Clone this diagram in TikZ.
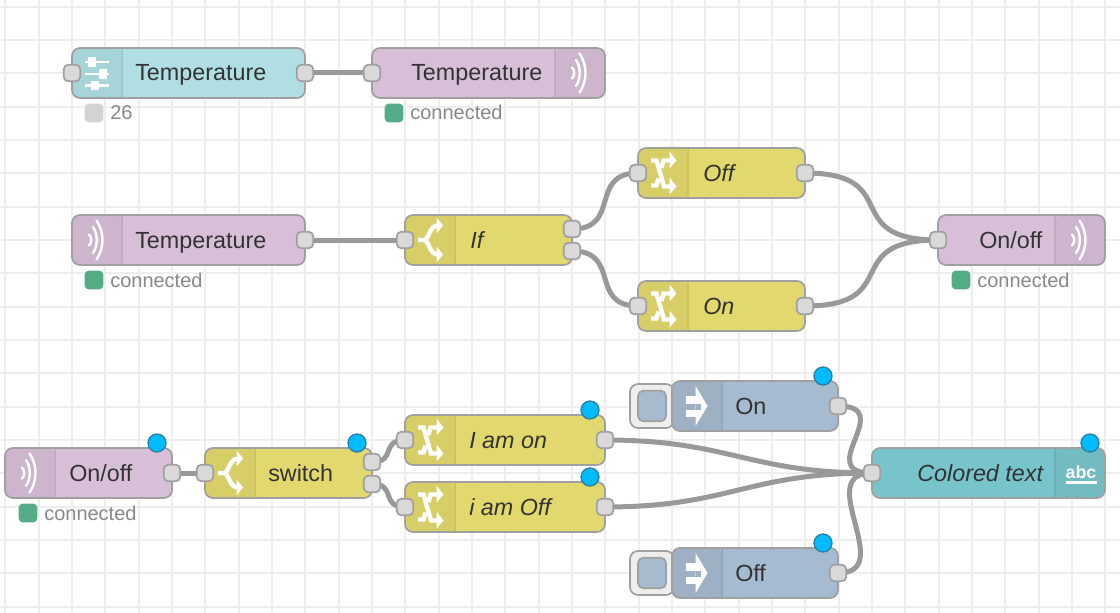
\documentclass[tikz,border=0pt]{standalone}
\usepackage{fontspec}
\setmainfont{Liberation Sans}
\usetikzlibrary{calc}
\pgfdeclarelayer{gridlayer}
\pgfdeclarelayer{wirelayer}
\pgfsetlayers{gridlayer,wirelayer,main}
\definecolor{nrtext}{HTML}{333333}
\definecolor{nrstroke}{HTML}{A0A0A0}
\definecolor{nrwire}{HTML}{999999}
\definecolor{nrgrid}{HTML}{EEEEEE}
\definecolor{nrport}{HTML}{D9D9D9}
\definecolor{nrstat}{HTML}{888888}
\definecolor{nrgreen}{HTML}{55AA88}
\definecolor{nrgrey}{HTML}{D3D3D3}
\definecolor{nrdot}{HTML}{00BCFF}
\definecolor{nrdotline}{HTML}{2B7FA8}
\definecolor{nrbtn}{HTML}{EEEEEE}
\definecolor{purple}{HTML}{D8BFD8}
\definecolor{purpletab}{HTML}{CDB5CD}
\definecolor{purpleline}{HTML}{C2ABC2}
\definecolor{yellow}{HTML}{E2D96E}
\definecolor{yellowtab}{HTML}{D7CE68}
\definecolor{yellowline}{HTML}{CBC262}
\definecolor{blue}{HTML}{A6BBCF}
\definecolor{bluetab}{HTML}{9EB1C4}
\definecolor{blueline}{HTML}{95A8BA}
\definecolor{aqua}{HTML}{B0DFE3}
\definecolor{aquatab}{HTML}{A7D4D8}
\definecolor{aqualine}{HTML}{9EC9CC}
\definecolor{teal}{HTML}{77C5CB}
\definecolor{tealtab}{HTML}{71BBC1}
\definecolor{tealline}{HTML}{6BB1B7}
\tikzset{
  px/.style={x=0.75pt,y=-0.75pt},
  flowbody/.style={draw=nrstroke,line width=1.3pt,rounded corners=6pt,minimum height=37.5pt,inner sep=0pt,outer sep=0pt},
  flowlabel/.style={anchor=base west,inner sep=0pt,text=nrtext,font=\fontsize{17.5}{20}\selectfont},
  itlabel/.style={flowlabel,font=\fontsize{17.5}{20}\selectfont\itshape},
  port/.style={draw=nrstroke,fill=nrport,line width=1.3pt,rounded corners=3.6pt,minimum size=12.5pt,inner sep=0pt,outer sep=0pt},
  wire/.style={draw=nrwire,line width=3.75pt},
  gridline/.style={draw=nrgrid,line width=1.4pt},
  statbox/.style={rounded corners=3pt,minimum size=14pt,inner sep=0pt,outer sep=0pt},
  stattext/.style={anchor=base west,inner sep=0pt,text=nrstat,font=\fontsize{15}{18}\selectfont},
  badge/.style={circle,fill=nrdot,draw=nrdotline,line width=1pt,minimum size=13.5pt,inner sep=0pt,outer sep=0pt},
  btnbox/.style={draw=nrstroke,fill=nrbtn,line width=1.3pt,rounded corners=6pt,minimum width=33pt,minimum height=33pt,inner sep=0pt,outer sep=0pt,anchor=west},
  btnface/.style={draw=nrstroke,fill=blue,line width=1.3pt,rounded corners=4pt,minimum width=21pt,minimum height=23pt,inner sep=0pt,outer sep=0pt},
  icon/.style={draw=white,line width=#1},
  icon/.default=3pt
}
\newcommand\bodyL[5]{%
  \node[flowbody,fill=#5,minimum width=#4*0.75pt,anchor=west,
    path picture={\fill[#5tab] (path picture bounding box.north west) rectangle ++(50,52);
      \draw[#5line,line width=1.2pt] ($(path picture bounding box.north west)+(50,0)$) -- ++(0,52);}]
    (#1) at (#2,#3) {};}
\newcommand\bodyR[5]{%
  \node[flowbody,fill=#5,minimum width=#4*0.75pt,anchor=west,
    path picture={\fill[#5tab] (path picture bounding box.north east) rectangle ++(-50,52);
      \draw[#5line,line width=1.2pt] ($(path picture bounding box.north east)+(-50,0)$) -- ++(0,52);}]
    (#1) at (#2,#3) {};}
\newcommand\wire[3]{\begin{pgfonlayer}{wirelayer}\draw[wire] (#1.center) .. controls +(#3,0) and +(-#3,0) .. (#2.center);\end{pgfonlayer}}
\newcommand\iconwave[2]{\begin{scope}[shift={(#1,#2)}]
  \draw[icon=1.8pt,line cap=round] (17,19.5) .. controls (20,22) and (20,28) .. (17,30.5);
  \draw[icon=1.8pt,line cap=round] (21,12) .. controls (26,19) and (26,31) .. (21,38);
  \draw[icon=1.8pt,line cap=round] (24.5,5.5) .. controls (32.5,17) and (32.5,33) .. (24.5,44.5);
\end{scope}}
\newcommand\iconchange[2]{\begin{scope}[shift={(#1,#2)}]
  \draw[icon=3.3pt] (13,12.5) -- (18.5,12.5) -- (26,38.5) -- (33,38.5);
  \draw[icon=3.3pt] (13,37.5) -- (18.5,37.5) -- (20.4,30.5);
  \draw[icon=3.3pt] (23.4,20) -- (25.6,12.5) -- (33,12.5);
  \fill[white] (31.5,3.5) -- (38.5,12.5) -- (31.5,20.5) -- cycle;
  \fill[white] (31.5,29.5) -- (38.5,38.5) -- (31.5,46.5) -- cycle;
\end{scope}}
\newcommand\iconswitch[2]{\begin{scope}[shift={(#1,#2)}]
  \draw[icon=3.3pt] (13,25) -- (19,25) .. controls (24,25) and (24,10.5) .. (33,10.5);
  \draw[icon=3.3pt] (19,25) .. controls (24,25) and (24,39.5) .. (33,39.5);
  \fill[white] (31.5,2.5) -- (38,10.5) -- (31.5,18.5) -- cycle;
  \fill[white] (31.5,31.5) -- (38,39.5) -- (31.5,47.5) -- cycle;
\end{scope}}
\newcommand\iconinject[2]{\begin{scope}[shift={(#1,#2)}]
  \fill[white] (23.5,5) -- (35.5,25) -- (23.5,45) -- cycle;
  \fill[white] (14,15) rectangle (27,22.5);
  \fill[white] (14,28.5) rectangle (27,36);
  \fill[bluetab] (23.5,22.5) rectangle (29,28.5);
\end{scope}}
\newcommand\iconslider[2]{\begin{scope}[shift={(#1,#2)}]
  \draw[icon=2.2pt] (13,14) -- (37,14);
  \fill[white] (16,9.5) rectangle (23.5,19);
  \draw[icon=2.2pt] (13,26) -- (37,26);
  \fill[white] (26.5,21.5) rectangle (34.5,31);
  \draw[icon=2.2pt] (13,37.7) -- (37,37.7);
  \fill[white] (19,33) rectangle (26.5,42.5);
\end{scope}}
\begin{document}
\begin{tikzpicture}[px]
\useasboundingbox (0,0) rectangle (1120,613);
\begin{pgfonlayer}{gridlayer}
  \fill[white] (0,0) rectangle (1120,613);
  \foreach \i in {0,...,33} \draw[gridline] ({5.33+33.33*\i},0) -- ({5.33+33.33*\i},613);
  \foreach \i in {0,...,18} \draw[gridline] (0,{6.67+33.33*\i}) -- (1120,{6.67+33.33*\i});
\end{pgfonlayer}

% row 1
\bodyL{n1}{72}{73}{233}{aqua}
\iconslider{72}{48}
\node[flowlabel] (n1t) at (135,81) {Temperature};
\node[port] (n1i) at (72,73) {};
\node[port] (n1o) at (305,73) {};
\node[statbox,fill=nrgrey] (n1s) at (94,113) {};
\node[stattext] (n1st) at (110,120) {26};

\bodyR{n2}{372}{73}{233}{purple}
\iconwave{555}{48}
\node[flowlabel] (n2t) at (411,81) {Temperature};
\node[port] (n2i) at (372,73) {};
\node[statbox,fill=nrgreen] (n2s) at (394,113) {};
\node[stattext] (n2st) at (410,120) {connected};

% row 2
\bodyL{n3}{72}{240}{233}{purple}
\iconwave{72}{215}
\node[flowlabel] (n3t) at (135,248) {Temperature};
\node[port] (n3o) at (305,240) {};
\node[statbox,fill=nrgreen] (n3s) at (94,280) {};
\node[stattext] (n3st) at (110,287) {connected};

\bodyL{n4}{405}{240}{167}{yellow}
\iconswitch{405}{215}
\node[itlabel] (n4t) at (470,248) {If};
\node[port] (n4i) at (405,240) {};
\node[port] (n4a) at (572,229) {};
\node[port] (n4b) at (572,251) {};

\bodyL{n5}{638}{173}{167}{yellow}
\iconchange{638}{148}
\node[itlabel] (n5t) at (703,181) {Off};
\node[port] (n5i) at (638,173) {};
\node[port] (n5o) at (805,173) {};

\bodyL{n6}{638}{306}{167}{yellow}
\iconchange{638}{281}
\node[itlabel] (n6t) at (703,314) {On};
\node[port] (n6i) at (638,306) {};
\node[port] (n6o) at (805,306) {};

\bodyR{n7}{938}{240}{167}{purple}
\iconwave{1055}{215}
\node[flowlabel] (n7t) at (979,248) {On/off};
\node[port] (n7i) at (938,240) {};
\node[statbox,fill=nrgreen] (n7s) at (961,280) {};
\node[stattext] (n7st) at (977,287) {connected};

% row 3
\bodyL{n8}{5}{473}{167}{purple}
\iconwave{5}{448}
\node[flowlabel] (n8t) at (69,481) {On/off};
\node[port] (n8o) at (172,473) {};
\node[statbox,fill=nrgreen] (n8s) at (28,513) {};
\node[stattext] (n8st) at (44,520) {connected};
\node[badge] (n8d) at (157,443) {};

\bodyL{n9}{205}{473}{167}{yellow}
\iconswitch{205}{448}
\node[flowlabel] (n9t) at (268,481) {switch};
\node[port] (n9i) at (205,473) {};
\node[port] (n9a) at (372,462) {};
\node[port] (n9b) at (372,484) {};
\node[badge] (n9d) at (357,443) {};

\bodyL{n10}{405}{440}{200}{yellow}
\iconchange{405}{415}
\node[itlabel] (n10t) at (469,448) {I am on};
\node[port] (n10i) at (405,440) {};
\node[port] (n10o) at (605,440) {};
\node[badge] (n10d) at (590,410) {};

\bodyL{n11}{405}{507}{200}{yellow}
\iconchange{405}{482}
\node[itlabel] (n11t) at (469,515) {i am Off};
\node[port] (n11i) at (405,507) {};
\node[port] (n11o) at (605,507) {};
\node[badge] (n11d) at (590,477) {};

% inject nodes
\node[btnbox] (n12b) at (630,406) {};
\node[btnface] (n12c) at (652,406) {};
\bodyL{n12}{672}{406}{166}{blue}
\iconinject{672}{381}
\node[flowlabel] (n12t) at (735,414) {On};
\node[port] (n12o) at (838,406) {};
\node[badge] (n12d) at (823,376) {};

\node[btnbox] (n13b) at (630,573) {};
\node[btnface] (n13c) at (652,573) {};
\bodyL{n13}{672}{573}{166}{blue}
\iconinject{672}{548}
\node[flowlabel] (n13t) at (735,581) {Off};
\node[port] (n13o) at (838,573) {};
\node[badge] (n13d) at (823,543) {};

% colored text
\bodyR{n14}{872}{473}{233}{teal}
\node[itlabel] (n14t) at (917,481) {Colored text};
\node[anchor=base,inner sep=0pt,text=white,font=\fontsize{13.3}{15}\bfseries\selectfont] (n14a) at (1081,478) {abc};
\draw[draw=white,line width=1.6pt] (1066,482.5) -- (1097,482.5);
\node[port] (n14i) at (872,473) {};
\node[badge] (n14d) at (1090,443) {};

% wires
\wire{n1o}{n2i}{50}
\wire{n3o}{n4i}{75}
\wire{n4a}{n5i}{49.5}
\wire{n4b}{n6i}{49.5}
\wire{n5o}{n7i}{100}
\wire{n6o}{n7i}{100}
\wire{n8o}{n9i}{25}
\wire{n9a}{n10i}{25}
\wire{n9b}{n11i}{25}
\wire{n10o}{n14i}{125}
\wire{n11o}{n14i}{125}
\wire{n12o}{n14i}{60}
\wire{n13o}{n14i}{60}
\end{tikzpicture}
\end{document}
